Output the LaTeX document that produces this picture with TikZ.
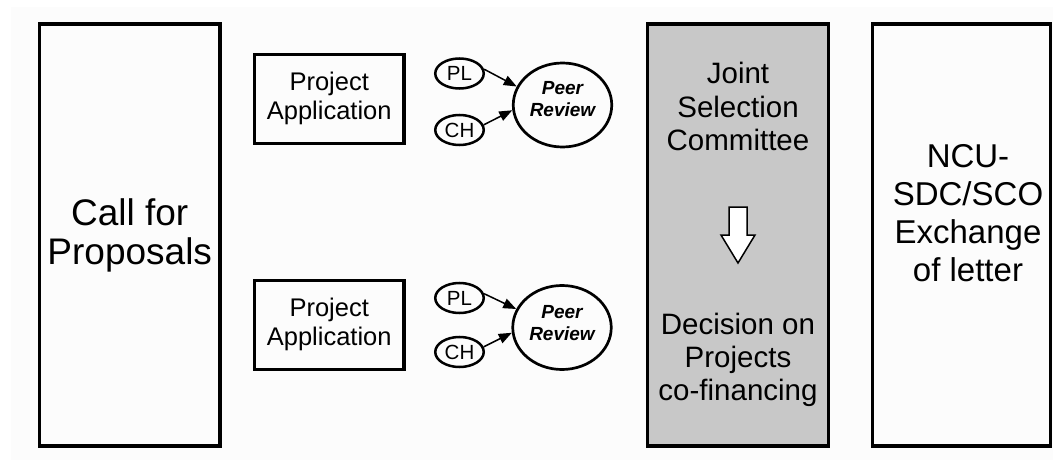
\documentclass[tikz,border=0pt]{standalone}
\usepackage{fontspec}
\setmainfont{Liberation Sans}
\usetikzlibrary{shapes.geometric,arrows.meta}
\definecolor{boxgray}{RGB}{200,200,200}
\definecolor{bgwhite}{RGB}{252,252,252}
\begin{document}
\begin{tikzpicture}[x=1pt,y=-1pt,
  bigbox/.style={draw,rectangle,line width=3.3pt,inner sep=0pt,minimum width=180.6pt,minimum height=422pt,align=center},
  appbox/.style={draw,rectangle,line width=3.2pt,inner sep=0pt,minimum width=149.7pt,minimum height=89pt,align=center,font=\fontsize{25.5}{29}\selectfont},
  small/.style={draw,ellipse,line width=2.5pt,inner sep=0pt,minimum width=48.5pt,minimum height=30pt,font=\fontsize{20.5}{22}\selectfont},
  review/.style={draw,ellipse,line width=2.7pt,inner sep=0pt,minimum width=98.5pt,minimum height=84pt,align=center,font=\fontsize{19}{21.5}\selectfont\bfseries\itshape},
  link/.style={line width=1.5pt,-{Triangle[length=13pt,width=10pt]}},
  bigtext/.style={align=center,inner sep=0pt}
]
\useasboundingbox (0,0) rectangle (1053,460);
\fill[bgwhite] (11,7) rectangle (1053,460);

% Call for proposals
\node[bigbox,font=\fontsize{37}{39}\selectfont] (call) at (129.75,235) {Call for\\Proposals};

% Project applications
\node[appbox] (app1) at (329.2,98.8) {Project\\Application};
\node[appbox] (app2) at (329.2,324.8) {Project\\Application};

% Peer review groups
\node[small] (pl1) at (459.5,73.5) {PL};
\node[small] (ch1) at (459.5,130) {CH};
\node[review] (pr1) at (562.5,105) {Peer\\Review\rule[-12pt]{0pt}{12pt}};
\node[small] (pl2) at (459.5,298) {PL};
\node[small] (ch2) at (459.5,352) {CH};
\node[review] (pr2) at (562,327.5) {Peer\\Review\rule[-9pt]{0pt}{9pt}};

\draw[link] (pl1.10) -- (pr1.158);
\draw[link] (ch1.12) -- (pr1.186);
\draw[link] (pl2.10) -- (pr2.158);
\draw[link] (ch2.12) -- (pr2.186);

% Joint selection committee
\node[bigbox,fill=boxgray] (jsc) at (737.9,235) {};
\node[bigtext,font=\fontsize{29.5}{33.5}\selectfont] (jsctext) at (738,106.5) {Joint\\Selection\\Committee};
\node[bigtext,font=\fontsize{29.5}{33}\selectfont] (dectext) at (738,360) {Decision on\\Projects\\co-financing};
\draw[line width=1.5pt,fill=white,line join=miter]
  (729,207) -- (747,207) -- (747,235) -- (755,235) -- (738,263) -- (721,235) -- (729,235) -- cycle;

% NCU box
\node[bigbox,minimum width=178pt] (ncu) at (961.5,235) {};
\node[bigtext,font=\fontsize{33}{38}\selectfont] (ncutext) at (968,213) {NCU-\\SDC/SCO\\Exchange\\of letter};
\end{tikzpicture}
\end{document}
